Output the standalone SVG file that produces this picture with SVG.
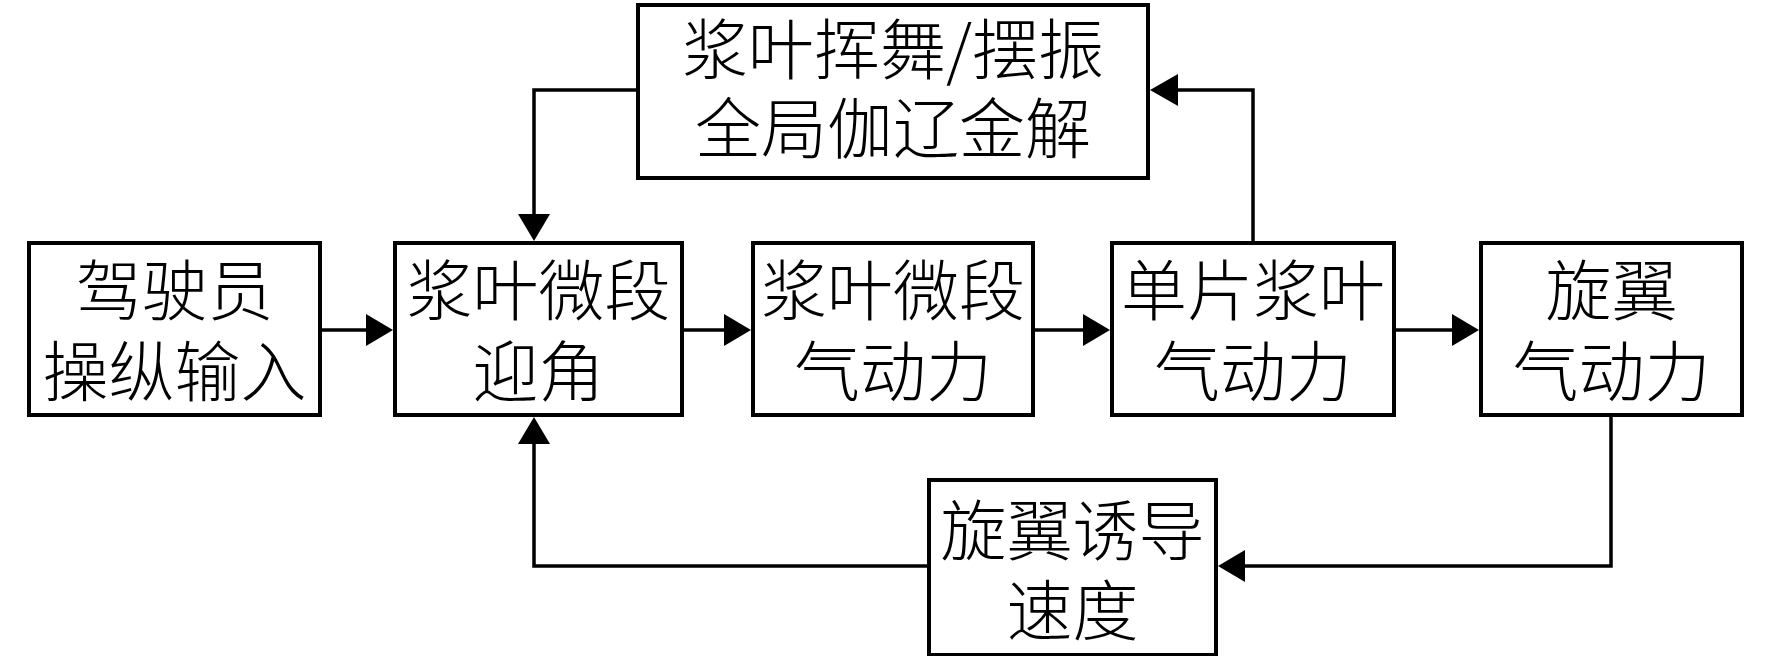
<svg xmlns="http://www.w3.org/2000/svg" width="1772" height="656" viewBox="0 0 1772 656">
<style>
.box{fill:#fff;stroke:#000;stroke-width:4}
.lbl{font-family:"Noto Sans CJK SC","Noto Sans CJK JP",sans-serif;font-size:66px;font-weight:300;fill:#000;text-anchor:middle}
.wire{fill:none;stroke:#000;stroke-width:3.5}
.head{fill:#000}
</style>
<rect width="1772" height="656" fill="#fff"/>
<g id="connectors">
<polyline class="wire" points="322,330 368,330"/>
<polygon class="head" points="393,330 366,314 366,346"/>
<polyline class="wire" points="684,330 726,330"/>
<polygon class="head" points="751,330 724,314 724,346"/>
<polyline class="wire" points="1035,330 1085,330"/>
<polygon class="head" points="1110,330 1083,314 1083,346"/>
<polyline class="wire" points="1396,330 1454,330"/>
<polygon class="head" points="1479,330 1452,314 1452,346"/>
<polyline class="wire" points="1253,241 1253,90 1176,90"/>
<polygon class="head" points="1150,90 1178,74 1178,106"/>
<polyline class="wire" points="636,90 534,90 534,216"/>
<polygon class="head" points="534,241 518,214 550,214"/>
<polyline class="wire" points="1611,417 1611,566 1243,566"/>
<polygon class="head" points="1218,566 1245,550 1245,582"/>
<polyline class="wire" points="927,566 534,566 534,442"/>
<polygon class="head" points="534,417 518,444 550,444"/>
</g>
<g id="pilot">
<rect class="box" x="29" y="243" width="291" height="172"/>
<text class="lbl" x="174.5" y="315">驾驶员</text>
<text class="lbl" x="174.5" y="396">操纵输入</text>
</g>
<g id="aoa">
<rect class="box" x="395" y="243" width="287" height="172"/>
<text class="lbl" x="538.5" y="315">浆叶微段</text>
<text class="lbl" x="538.5" y="396">迎角</text>
</g>
<g id="segforce">
<rect class="box" x="753" y="243" width="280" height="172"/>
<text class="lbl" x="893" y="315">浆叶微段</text>
<text class="lbl" x="893" y="396">气动力</text>
</g>
<g id="bladeforce">
<rect class="box" x="1112" y="243" width="282" height="172"/>
<text class="lbl" x="1253" y="315">单片浆叶</text>
<text class="lbl" x="1253" y="396">气动力</text>
</g>
<g id="rotorforce">
<rect class="box" x="1481" y="243" width="261" height="172"/>
<text class="lbl" x="1611.5" y="315">旋翼</text>
<text class="lbl" x="1611.5" y="396">气动力</text>
</g>
<g id="galerkin">
<rect class="box" x="638" y="5" width="510" height="173"/>
<text class="lbl" x="893" y="74">浆叶挥舞/摆振</text>
<text class="lbl" x="893" y="153">全局伽辽金解</text>
</g>
<g id="inflow">
<rect class="box" x="929" y="480" width="287" height="175"/>
<text class="lbl" x="1072.5" y="555">旋翼诱导</text>
<text class="lbl" x="1072.5" y="635">速度</text>
</g>
</svg>
